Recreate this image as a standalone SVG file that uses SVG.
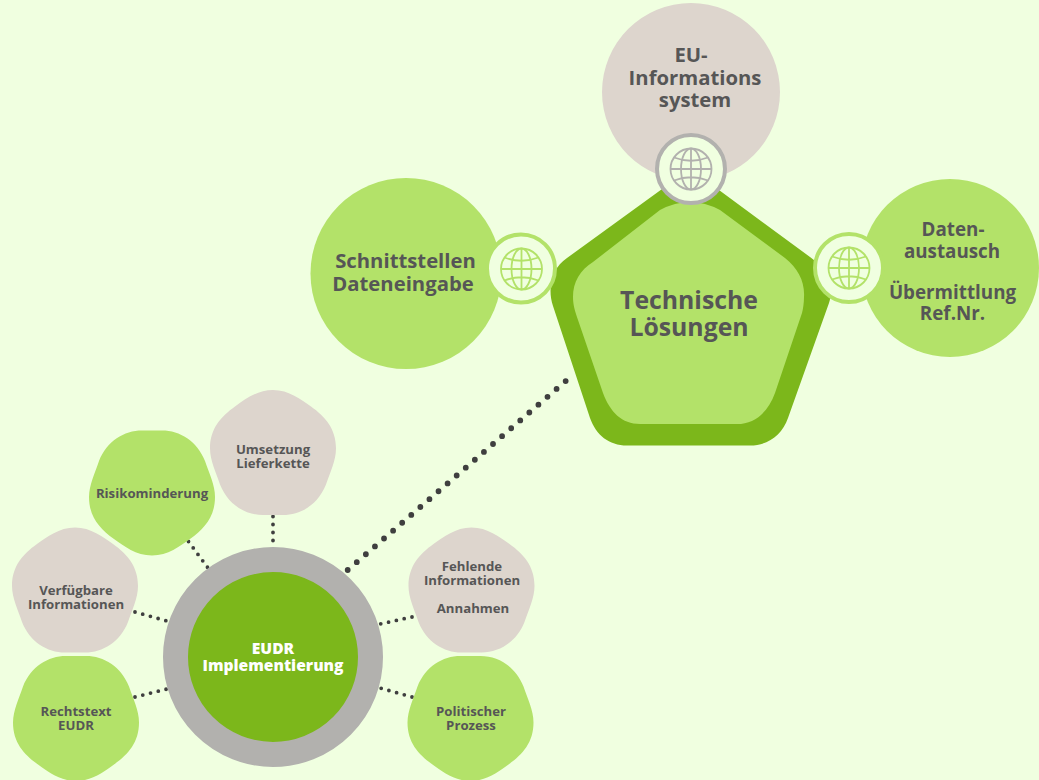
<svg xmlns="http://www.w3.org/2000/svg" width="1039" height="780" viewBox="0 0 1039 780">
<style>
text{font-family:"Open Sans","Noto Sans",sans-serif;font-weight:700;fill:#565656;text-anchor:middle}
.s{font-size:13.2px}
.m{font-size:20.300px}
.d{font-size:18.800px}
.l{font-size:24.800px}
.w{font-size:15.600px;font-weight:800;fill:#fff}
.g{fill:#b3e269}
.t{fill:#ddd5cd}
.dot{fill:none;stroke:#3f3f3f;stroke-linecap:round;stroke-dasharray:0 8;stroke-width:3.8}
.big{stroke-dasharray:0 12.02;stroke-width:5.800}
.glb{fill:none;stroke-width:1.800}
</style>
<defs>
<path id="blob" d="M0,-62.500C16,-62.500 28,-53 38,-46C52,-36 63,-24 63,-4C63,8 57,20 53,32C45,52 28,62.500 10,62.500L-10,62.500C-28,62.500 -45,52 -53,32C-57,20 -63,8 -63,-4C-63,-24 -52,-36 -38,-46C-28,-53 -16,-62.500 0,-62.500Z"/>
<g id="globe" class="glb">
<circle r="20.500"/><ellipse rx="10" ry="20.500"/><path d="M0,-20.500V20.500M-20.500,0H20.500M-17,-11.500Q0,-5 17,-11.500M-17,11.500Q0,5 17,11.500"/>
</g>
</defs>
<rect width="1039" height="780" fill="#f0ffe0"/>
<g id="connectors">
<path class="dot big" d="M347.700,570L565.700,381"/>
<path class="dot" d="M273,516.500V548"/>
<path class="dot" d="M188.500,541.500L208,568"/>
<path class="dot" d="M135,612L167,621"/>
<path class="dot" d="M412,617L380,624"/>
<path class="dot" d="M412,697L380,688"/>
<path class="dot" d="M135,697L167,689"/>
</g>
<g id="node-eu">
<circle cx="691" cy="92" r="89" class="t"/>
<text class="m"><tspan x="691" y="62">EU-</tspan><tspan x="695" y="85">Informations</tspan><tspan x="695" y="107">system</tspan></text>
</g>
<g id="node-schnitt">
<circle cx="406" cy="273.500" r="95.500" class="g"/>
<text class="m"><tspan x="405.500" y="268">Schnittstellen</tspan><tspan x="403" y="291">Dateneingabe</tspan></text>
</g>
<g id="node-daten">
<circle cx="950" cy="268" r="89" class="g"/>
<text class="d"><tspan x="953" y="236">Daten-</tspan><tspan x="952" y="258">austausch</tspan><tspan x="952.500" y="299">Übermittlung</tspan><tspan x="952.500" y="320">Ref.Nr.</tspan></text>
</g>
<g id="node-technische">
<path d="M567,258L680,176Q690,169 700,176L810,257C826,268 835,285 829,303L788,418C782,435 768,445.500 750,445.500L627,445.500C609,445.500 596,435 590,418L553,306C547,288 552,268 567,258Z" fill="#7cb71b"/>
<path d="M660,210Q690,194 720,210L785,258C798,268 805,282 804,297C804,303 803,309 802,313L775,393C768,412 755,424 737,424L640,424C622,424 610,412 603,393L578,320C575,311 573,305 573,297C573,282 580,270 593,262Z" class="g"/>
<text class="l"><tspan x="689" y="309">Technische</tspan><tspan x="689" y="336">Lösungen</tspan></text>
</g>
<g id="globe-top">
<circle cx="691" cy="169" r="34" fill="#f0ffe0" stroke="#b2b1ae" stroke-width="4"/>
<use href="#globe" x="691" y="169" stroke="#b2b1ae"/>
</g>
<g id="globe-left">
<circle cx="521" cy="268.500" r="34" fill="#f0ffe0" stroke="#b3e269" stroke-width="4"/>
<use href="#globe" x="521.500" y="269" stroke="#b3e269"/>
</g>
<g id="globe-right">
<circle cx="849" cy="268" r="34" fill="#f0ffe0" stroke="#b3e269" stroke-width="4"/>
<use href="#globe" x="849" y="268" stroke="#b3e269"/>
</g>
<g id="node-umsetzung">
<use href="#blob" x="273" y="452.500" class="t"/>
<text class="s"><tspan x="273" y="454">Umsetzung</tspan><tspan x="273" y="468">Lieferkette</tspan></text>
</g>
<g id="node-risiko">
<use href="#blob" transform="translate(152,493) rotate(180)" class="g"/>
<text class="s" x="152" y="498">Risikominderung</text>
</g>
<g id="node-verfuegbar">
<use href="#blob" x="75" y="590" class="t"/>
<text class="s"><tspan x="76" y="595">Verfügbare</tspan><tspan x="76" y="609">Informationen</tspan></text>
</g>
<g id="node-rechtstext">
<use href="#blob" transform="translate(76,718.500) rotate(180)" class="g"/>
<text class="s"><tspan x="76" y="716">Rechtstext</tspan><tspan x="76" y="730">EUDR</tspan></text>
</g>
<g id="node-fehlende">
<use href="#blob" x="471.500" y="590" class="t"/>
<text class="s"><tspan x="472" y="571">Fehlende</tspan><tspan x="472" y="585">Informationen</tspan><tspan x="473" y="613">Annahmen</tspan></text>
</g>
<g id="node-politisch">
<use href="#blob" transform="translate(470.500,718.500) rotate(180)" class="g"/>
<text class="s"><tspan x="471" y="716">Politischer</tspan><tspan x="471" y="730">Prozess</tspan></text>
</g>
<g id="node-eudr">
<circle cx="273" cy="657" r="97.500" fill="#7cb71b" stroke="#b2b1ae" stroke-width="25"/>
<text class="w"><tspan x="273" y="654">EUDR</tspan><tspan x="273" y="671">Implementierung</tspan></text>
</g>
</svg>
